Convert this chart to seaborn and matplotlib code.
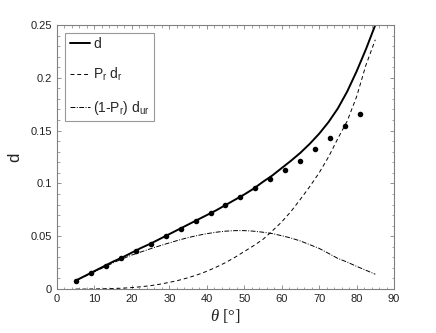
import numpy as np
import pandas as pd
import matplotlib
matplotlib.use("Agg")
import matplotlib.pyplot as plt
import seaborn as sns
from matplotlib.ticker import MultipleLocator

theta_line = [5, 7.5, 10, 12.5, 15, 17.5, 20, 22.5, 25, 27.5, 30, 32.5, 35, 37.5, 40,
              42.5, 45, 47.5, 50, 52.5, 55, 57.5, 60, 62.5, 65, 67.5, 70, 72.5, 75,
              77.5, 80, 82.5, 85]
d_total = [0.008, 0.0125, 0.017, 0.0215, 0.026, 0.030, 0.0345, 0.039, 0.043, 0.0475,
           0.052, 0.0565, 0.061, 0.0655, 0.070, 0.0745, 0.0795, 0.0845, 0.0895, 0.095,
           0.1015, 0.1075, 0.1145, 0.1215, 0.129, 0.1375, 0.147, 0.158, 0.171, 0.187,
           0.206, 0.227, 0.25]
d_refl = [0.0, 0.0, 0.0001, 0.0003, 0.0005, 0.0008, 0.0014, 0.0022, 0.0032, 0.0046,
          0.0063, 0.0083, 0.0107, 0.0135, 0.0168, 0.0207, 0.025, 0.030, 0.0355, 0.041,
          0.047, 0.055, 0.0635, 0.0735, 0.085, 0.097, 0.110, 0.125, 0.1425, 0.159,
          0.182, 0.212, 0.236]
d_unrefl = [0.008, 0.012, 0.0163, 0.0205, 0.0248, 0.0287, 0.0322, 0.0352, 0.0382, 0.041,
            0.0437, 0.0463, 0.0487, 0.0507, 0.0524, 0.0538, 0.0548, 0.0553, 0.0553,
            0.0548, 0.0538, 0.0525, 0.0505, 0.0483, 0.0455, 0.042, 0.0385, 0.0338,
            0.029, 0.0255, 0.0215, 0.0178, 0.014]

theta_pts = [5, 9, 13, 17, 21, 25, 29, 33, 37, 41, 45, 49, 53, 57, 61, 65, 69, 73, 77, 81]
d_pts = [0.008, 0.015, 0.022, 0.029, 0.036, 0.043, 0.050, 0.057, 0.064, 0.0717,
         0.0792, 0.0874, 0.0956, 0.104, 0.113, 0.1216, 0.1326, 0.143, 0.154, 0.166]

sns.set_style("ticks")
plt.rcParams['font.family'] = ['Liberation Sans', 'DejaVu Sans']
plt.rcParams['mathtext.fontset'] = 'custom'
plt.rcParams['mathtext.rm'] = 'Liberation Sans'
plt.rcParams['mathtext.it'] = 'Liberation Serif:italic'

fig = plt.figure(figsize=(4.36, 3.33), dpi=100)
ax = fig.add_axes([0.1307, 0.132, 0.773, 0.793])

df = pd.DataFrame({"theta": theta_line, "d": d_total, "pr": d_refl, "ur": d_unrefl})
dp = pd.DataFrame({"theta": theta_pts, "d": d_pts})

sns.lineplot(data=df, x="theta", y="d", ax=ax, color="black", lw=1.4, label="d")
sns.lineplot(data=df, x="theta", y="pr", ax=ax, color="black", lw=0.7,
             label="P$_\\mathrm{r}$ d$_\\mathrm{r}$")
ax.lines[-1].set_dashes([4, 3])
sns.lineplot(data=df, x="theta", y="ur", ax=ax, color="black", lw=0.7,
             label="(1-P$_\\mathrm{r}$) d$_\\mathrm{ur}$")
ax.lines[-1].set_dashes([5, 1.5, 1, 1.5])
sns.scatterplot(data=dp, x="theta", y="d", ax=ax, color="black", s=16,
                edgecolor="black", linewidth=0, legend=False, zorder=5)

ax.set_xlim(0, 90)
ax.set_ylim(0, 0.25)
ax.xaxis.set_major_locator(MultipleLocator(10))
ax.xaxis.set_minor_locator(MultipleLocator(2))
ax.yaxis.set_minor_locator(MultipleLocator(0.01))
ax.set_yticks([0, 0.05, 0.1, 0.15, 0.2, 0.25])
ax.set_yticklabels(["0", "0.05", "0.1", "0.15", "0.2", "0.25"])

for s in ax.spines.values():
    s.set_color("#808080")
    s.set_linewidth(0.8)
ax.tick_params(which="both", direction="in", top=True, right=True, colors="#808080",
               labelcolor="#222222", labelsize=8)
ax.tick_params(which="major", length=3, width=0.6)
ax.tick_params(which="minor", length=1.8, width=0.5)

ax.set_xlabel(r"$\theta$ [°]", fontsize=12, color="#222222", labelpad=2,
              fontfamily="Liberation Serif")
ax.set_ylabel("d", fontsize=12, color="#222222", labelpad=6)

leg = ax.legend(loc="upper left", bbox_to_anchor=(0.025, 0.97), fontsize=10,
                frameon=True, fancybox=False, edgecolor="#808080", handlelength=1.5,
                handletextpad=0.2, borderpad=0.3, labelspacing=1.1, borderaxespad=0)
leg.get_frame().set_linewidth(0.8)

fig.savefig("out.png", dpi=100)
